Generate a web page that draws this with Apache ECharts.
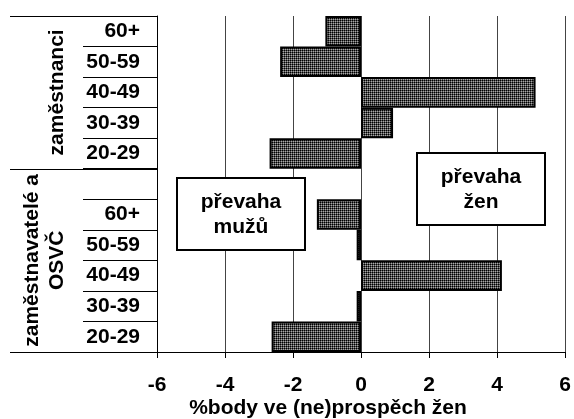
<!DOCTYPE html>
<html><head><meta charset="utf-8">
<script src="https://cdn.jsdelivr.net/npm/echarts@6/dist/echarts.min.js"></script>
<style>html,body{margin:0;padding:0;background:#fff}#c{width:574px;height:419px}</style>
</head><body><div id="c"></div>
<script>
// ---- data ----
const catKeys = ['z60','z50','z40','z30','z20','gap','o60','o50','o40','o30','o20'];
const catLabels = ['60+','50-59','40-49','30-39','20-29','','60+','50-59','40-49','30-39','20-29'];
const values = [-1.05, -2.38, 5.13, 0.94, -2.69, null, -1.30, -0.13, 4.14, -0.13, -2.63];
const groupNames = ['zaměstnanci', 'zaměstnavatelé a\nOSVČ'];
const groupFirst = [0, 5];
const groupLast = [4, 10];
const xTicks = {min: -6, max: 6, interval: 2};
const xTitle = '%body ve (ne)prospěch žen';
const boxLeftText = 'převaha\nmužů';
const boxRightText = 'převaha\nžen';

const FONT = '"Liberation Sans", Arial, sans-serif';
const FS = 21;

const cv = document.createElement('canvas');
cv.width = 2; cv.height = 2;
const cx = cv.getContext('2d');
cx.fillStyle = '#000000'; cx.fillRect(0,0,1,1);
cx.fillStyle = '#505050'; cx.fillRect(1,0,1,1); cx.fillRect(0,1,1,1);
cx.fillStyle = '#a8a8a8'; cx.fillRect(1,1,1,1);

const labelMap = {};
catKeys.forEach((k,i)=>labelMap[k]=catLabels[i]);

const chart = echarts.init(document.getElementById('c'), null, {renderer:'canvas'});
chart.setOption({
  animation: false,
  backgroundColor: '#fff',
  grid: {left: 157, right: 4, top: 16, bottom: 67, containLabel: false},
  xAxis: {
    type: 'value', min: xTicks.min, max: xTicks.max, interval: xTicks.interval,
    axisLine: {show: true, onZero: false, lineStyle: {color: '#000', width: 1}},
    axisTick: {show: true, length: 6, lineStyle: {color: '#000'}},
    splitLine: {show: true, lineStyle: {color: '#444', width: 1}},
    axisLabel: {color: '#000', fontSize: FS, fontWeight: 'bold', fontFamily: FONT, margin: 23}
  },
  yAxis: {
    type: 'category', inverse: true, data: catKeys,
    axisLine: {show: true, onZero: false, lineStyle: {color: '#000', width: 1}},
    axisTick: {show: true, length: 74, interval: 0, alignWithLabel: false, lineStyle: {color: '#000'}},
    axisLabel: {interval: 0, color: '#000', fontSize: FS, fontWeight: 'bold', fontFamily: FONT, margin: 17,
      formatter: v => labelMap[v]},
    splitLine: {show: false}
  },
  series: [{
    type: 'bar', data: values, barWidth: '100%', barCategoryGap: 0,
    itemStyle: {color: {image: cv, repeat: 'repeat'}, borderColor: '#000', borderWidth: 2}
  }]
});

// build table lines and labels from axis positions
const c0 = chart.convertToPixel({yAxisIndex: 0}, catKeys[0]);
const c1 = chart.convertToPixel({yAxisIndex: 0}, catKeys[1]);
const half = (c1 - c0) / 2;
const leftX = chart.convertToPixel({xAxisIndex: 0}, xTicks.min);
const gfx = [];
function rowTop(i){ return chart.convertToPixel({yAxisIndex: 0}, catKeys[i]) - half; }
function rowBot(i){ return chart.convertToPixel({yAxisIndex: 0}, catKeys[i]) + half; }
const fullLines = [rowTop(groupFirst[0]), rowTop(groupFirst[1]), rowBot(groupLast[1])];
fullLines.forEach(y => gfx.push({type:'line', shape:{x1:10, y1:Math.round(y)+0.5, x2:leftX, y2:Math.round(y)+0.5}, style:{stroke:'#000', lineWidth:1}}));
groupNames.forEach((name, g) => {
  const yc = (rowTop(groupFirst[g]) + rowBot(groupLast[g])) / 2;
  const n = name.split('\n').length;
  const xc = 57 - (n - 1) * 25 / 2;
  gfx.push({type:'text', x: xc, y: yc, rotation: Math.PI/2,
    style:{text: name, fill:'#000', fontSize: FS, fontWeight:'bold', fontFamily: FONT, align:'center', verticalAlign:'middle', lineHeight: 25}});
});
function box(x, y, w, h, txt){
  gfx.push({type:'rect', z: 100, shape:{x, y, width:w, height:h}, style:{fill:'#fff', stroke:'#000', lineWidth:2}});
  gfx.push({type:'text', z: 101, x: x + w/2, y: y + h/2 + 1, style:{text: txt, fill:'#000', fontSize: FS, fontWeight:'bold', fontFamily: FONT, align:'center', verticalAlign:'middle', lineHeight: 25}});
}
box(177, 178, 128, 72, boxLeftText);
box(417, 153, 128, 72, boxRightText);
gfx.push({type:'text', x: 328, y: 408, style:{text: xTitle, fill:'#000', fontSize: FS, fontWeight:'bold', fontFamily: FONT, align:'center', verticalAlign:'middle'}});
chart.setOption({graphic: gfx});
</script></body></html>
